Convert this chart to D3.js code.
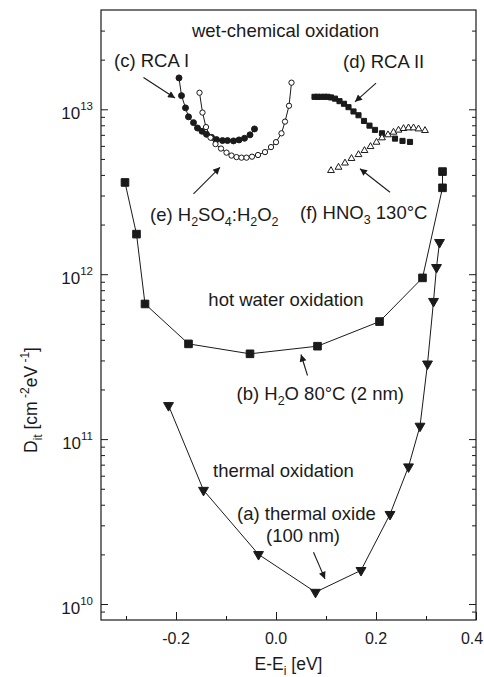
<!DOCTYPE html>
<html>
<head>
<meta charset="utf-8">
<script src="https://cdn.jsdelivr.net/npm/d3@7"></script>
<style>
  body { margin: 0; background: #fff; }
  svg text { font-family: "Liberation Sans", Arial, sans-serif; fill: #1a1a1a; }
</style>
</head>
<body>
<script>
// (a) thermal oxide, 100 nm
const thermalE = [-0.215, -0.145, -0.035, 0.079, 0.17, 0.228, 0.265, 0.288, 0.303, 0.315, 0.321, 0.327];
const thermalD = [1.6e11, 4.9e10, 2.0e10, 1.18e10, 1.6e10, 3.5e10, 6.8e10, 1.2e11, 2.86e11, 6.85e11, 1.1e12, 1.56e12];

// (b) H2O 80°C, 2 nm
const hotE = [-0.302, -0.279, -0.262, -0.175, -0.052, 0.083, 0.207, 0.293, 0.333, 0.333];
const hotD = [3.6e12, 1.75e12, 6.6e11, 3.78e11, 3.29e11, 3.66e11, 5.16e11, 9.5e11, 3.34e12, 4.19e12];

// (c) RCA I
const rca1E = [-0.194, -0.189, -0.181, -0.175, -0.165, -0.157, -0.148, -0.139, -0.129, -0.119, -0.107, -0.097, -0.085, -0.074, -0.063, -0.052, -0.043];
const rca1D = [1.55e13, 1.21e13, 1.02e13, 9.0e12, 8.3e12, 7.7e12, 7.36e12, 7.05e12, 6.76e12, 6.55e12, 6.46e12, 6.46e12, 6.43e12, 6.52e12, 6.67e12, 7.0e12, 7.6e12];

// (d) RCA II
const rca2E = [0.077, 0.083, 0.090, 0.097, 0.103, 0.110, 0.118, 0.127, 0.136, 0.145, 0.155, 0.165, 0.176, 0.187, 0.198, 0.212, 0.238, 0.253, 0.268];
const rca2D = [1.19e13, 1.19e13, 1.19e13, 1.19e13, 1.19e13, 1.18e13, 1.16e13, 1.12e13, 1.08e13, 1.03e13, 9.7e12, 9.2e12, 8.5e12, 7.96e12, 7.5e12, 7.15e12, 6.64e12, 6.43e12, 6.34e12];

// (e) H2SO4:H2O2
const spmE = [-0.153, -0.147, -0.140, -0.131, -0.121, -0.110, -0.099, -0.089, -0.079, -0.069, -0.059, -0.048, -0.036, -0.022, -0.010, 0.000, 0.011, 0.018, 0.026, 0.031];
const spmD = [1.26e13, 9.55e12, 7.8e12, 6.73e12, 6.15e12, 5.78e12, 5.46e12, 5.24e12, 5.13e12, 5.09e12, 5.09e12, 5.16e12, 5.28e12, 5.5e12, 5.9e12, 6.32e12, 7.15e12, 8.42e12, 1.05e13, 1.45e13];

// (f) HNO3 130°C
const nitE = [0.110, 0.125, 0.138, 0.151, 0.165, 0.177, 0.189, 0.201, 0.212, 0.224, 0.235, 0.245, 0.255, 0.265, 0.275, 0.285, 0.298];
const nitD = [4.25e12, 4.45e12, 4.72e12, 5.03e12, 5.31e12, 5.62e12, 5.94e12, 6.31e12, 6.71e12, 7.0e12, 7.26e12, 7.47e12, 7.64e12, 7.71e12, 7.71e12, 7.6e12, 7.43e12];

const xTicks = [-0.2, 0.0, 0.2, 0.4];
const xMinor = [-0.3, -0.1, 0.1, 0.3];
const yDecades = [10, 11, 12, 13];

const W = 484, H = 677;
const m = {left: 101, right: 8, top: 10, bottom: 57};

const svg = d3.select("body").append("svg")
  .attr("width", W).attr("height", H);

const x = d3.scaleLinear().domain([-0.35, 0.4]).range([m.left, W - m.right]);
const y = d3.scaleLog().domain([8e9, 4e13]).range([H - m.bottom, m.top]);

const x0 = m.left, x1 = W - m.right, y0 = H - m.bottom, y1 = m.top;

// minor y ticks: 2..9 in every decade
const yMinor = [];
for (let k = 9; k <= 13; k++) {
  for (let j = 2; j <= 9; j++) {
    const v = j * Math.pow(10, k);
    if (v > 8e9 && v < 4e13) yMinor.push(v);
  }
}
const yMajor = yDecades.map(k => Math.pow(10, k));

// axes (ticks inward)
const axes = svg.append("g").attr("stroke", "#1a1a1a").attr("fill", "none");
axes.append("g").attr("transform", `translate(0,${y0})`)
  .call(d3.axisBottom(x).tickValues(xTicks).tickSize(-8).tickFormat(""));
axes.append("g").attr("transform", `translate(0,${y0})`)
  .call(d3.axisBottom(x).tickValues(xMinor).tickSize(-4).tickFormat(""));
axes.append("g").attr("transform", `translate(${x0},0)`)
  .call(d3.axisLeft(y).tickValues(yMajor).tickSize(-7).tickFormat(""));
axes.append("g").attr("transform", `translate(${x0},0)`)
  .call(d3.axisLeft(y).tickValues(yMinor).tickSize(-4).tickFormat(""));
axes.append("g").attr("transform", `translate(${x1},0)`)
  .call(d3.axisRight(y).tickValues(yMajor).tickSize(-7).tickFormat(""));
axes.append("g").attr("transform", `translate(${x1},0)`)
  .call(d3.axisRight(y).tickValues(yMinor).tickSize(-4).tickFormat(""));
axes.selectAll(".domain").remove();
axes.selectAll("line").attr("stroke", "#1a1a1a").attr("stroke-width", 1);
svg.append("rect").attr("x", x0).attr("y", y1)
  .attr("width", x1 - x0).attr("height", y0 - y1)
  .attr("fill", "none").attr("stroke", "#1a1a1a").attr("stroke-width", 1.2);

// tick labels
svg.append("g").selectAll("text").data(xTicks).join("text")
  .attr("x", d => Math.min(x(d), W - 12)).attr("y", y0 + 24)
  .attr("text-anchor", "middle").attr("font-size", 16)
  .text(d => d.toFixed(1));

const yl = svg.append("g").selectAll("text").data(yDecades).join("text")
  .attr("x", 93).attr("y", d => y(Math.pow(10, d)) + 10)
  .attr("text-anchor", "end").attr("font-size", 17);
yl.append("tspan").text("10");
yl.append("tspan").attr("dy", -9).attr("font-size", 11.5).text(d => d);

// axis titles
const xt = svg.append("text").attr("x", (x0 + x1) / 2).attr("y", 670)
  .attr("text-anchor", "middle").attr("font-size", 17.5);
xt.append("tspan").text("E-E");
xt.append("tspan").attr("dy", 5).attr("font-size", 12).text("i");
xt.append("tspan").attr("dy", -5).text(" [eV]");

const ytl = svg.append("text").attr("transform", "translate(37,400) rotate(-90)")
  .attr("text-anchor", "middle").attr("font-size", 17.5);
ytl.append("tspan").text("D");
ytl.append("tspan").attr("dy", 5).attr("font-size", 12).text("it");
ytl.append("tspan").attr("dy", -5).text(" [cm");
ytl.append("tspan").attr("dy", -8).attr("font-size", 12).text(" -2");
ytl.append("tspan").attr("dy", 8).text("eV");
ytl.append("tspan").attr("dy", -8).attr("font-size", 12).text(" -1");
ytl.append("tspan").attr("dy", 8).text("]");

// series
const plot = svg.append("g");
const line = d3.line().x(d => x(d[0])).y(d => y(d[1]));
const zip = (a, b) => a.map((v, i) => [v, b[i]]);

function drawLine(pts) {
  plot.append("path").datum(pts).attr("d", line)
    .attr("fill", "none").attr("stroke", "#1a1a1a").attr("stroke-width", 1);
}
function drawSymbols(pts, type, size, fill, rot) {
  plot.append("g").selectAll("path").data(pts).join("path")
    .attr("d", d3.symbol(type, size))
    .attr("transform", d => `translate(${x(d[0])},${y(d[1])}) rotate(${rot || 0})`)
    .attr("fill", fill).attr("stroke", "#1a1a1a").attr("stroke-width", 1);
}

const ptsA = zip(thermalE, thermalD);
const ptsB = zip(hotE, hotD);
const ptsC = zip(rca1E, rca1D);
const ptsD = zip(rca2E, rca2D);
const ptsE = zip(spmE, spmD);
const ptsF = zip(nitE, nitD);

drawLine(ptsA); drawSymbols(ptsA, d3.symbolTriangle, 42, "#1a1a1a", 180);
drawLine(ptsB); drawSymbols(ptsB, d3.symbolSquare, 58, "#1a1a1a");
drawLine(ptsC); drawSymbols(ptsC, d3.symbolCircle, 28, "#1a1a1a");
drawSymbols(ptsD, d3.symbolSquare, 26, "#1a1a1a");
drawLine(ptsE); drawSymbols(ptsE, d3.symbolCircle, 22, "#fff");
drawSymbols(ptsF, d3.symbolTriangle, 20, "#fff");

// annotations
svg.append("defs").append("marker")
  .attr("id", "ah").attr("viewBox", "0 0 10 10")
  .attr("refX", 10).attr("refY", 5)
  .attr("markerWidth", 9).attr("markerHeight", 7)
  .attr("markerUnits", "userSpaceOnUse")
  .attr("orient", "auto")
  .append("path").attr("d", "M0,0 L10,5 L0,10 z").attr("fill", "#1a1a1a");

const arrows = [
  [-0.265, 1.56e13, -0.202, 1.17e13],
  [0.2, 1.44e13, 0.158, 1.11e13],
  [-0.165, 3.07e12, -0.112, 4.45e12],
  [0.228, 3.14e12, 0.168, 4.36e12],
  [0.063, 2.43e11, 0.05, 3.26e11],
  [0.075, 2.06e10, 0.098, 1.42e10]
];
svg.append("g").selectAll("line").data(arrows).join("line")
  .attr("x1", d => x(d[0])).attr("y1", d => y(d[1]))
  .attr("x2", d => x(d[2])).attr("y2", d => y(d[3]))
  .attr("stroke", "#1a1a1a").attr("stroke-width", 1.1)
  .attr("marker-end", "url(#ah)");

// label parts: [text, shift] where shift 1 = subscript
const labels = [
  {e: 0.019, d: 2.76e13, a: "middle", parts: [["wet-chemical oxidation"]]},
  {e: -0.324, d: 1.80e13, a: "start", parts: [["(c) RCA I"]]},
  {e: 0.134, d: 1.77e13, a: "start", parts: [["(d) RCA II"]]},
  {e: -0.252, d: 2.10e12, a: "start", parts: [["(e) H"], ["2", 1], ["SO"], ["4", 1], [":H"], ["2", 1], ["O"], ["2", 1]]},
  {e: 0.048, d: 2.16e12, a: "start", parts: [["(f) HNO"], ["3", 1], [" 130°C"]]},
  {e: 0.02, d: 6.45e11, a: "middle", parts: [["hot water oxidation"]]},
  {e: -0.079, d: 1.73e11, a: "start", parts: [["(b) H"], ["2", 1], ["O 80°C (2 nm)"]]},
  {e: -0.126, d: 5.9e10, a: "start", parts: [["thermal oxidation"]]},
  {e: -0.078, d: 3.24e10, a: "start", parts: [["(a) thermal oxide"]]},
  {e: 0.054, d: 2.37e10, a: "middle", parts: [["(100 nm)"]]}
];
labels.forEach(l => {
  const t = svg.append("text").attr("x", x(l.e)).attr("y", y(l.d))
    .attr("text-anchor", l.a).attr("font-size", 18.5);
  let prev = 0;
  l.parts.forEach(p => {
    const s = p[1] ? 1 : 0;
    const ts = t.append("tspan").text(p[0]);
    if (s !== prev) ts.attr("dy", s ? 5 : -5);
    if (s) ts.attr("font-size", 12.5);
    prev = s;
  });
});
</script>
</body>
</html>
